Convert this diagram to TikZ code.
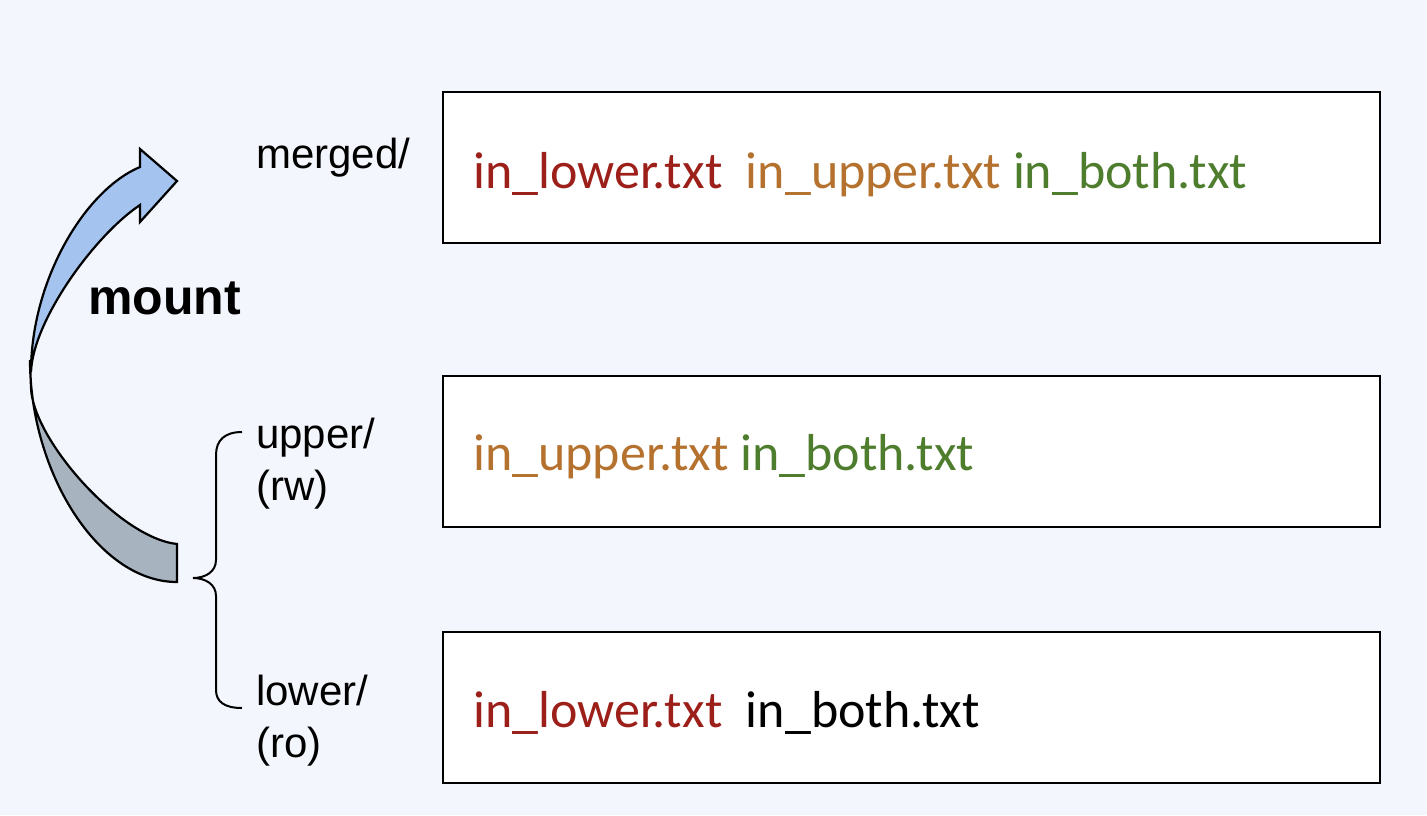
\documentclass[tikz,border=0pt]{standalone}
\usepackage{fontspec}
\setmainfont{Liberation Sans}
\newfontfamily\filefont{Carlito}
\definecolor{bgc}{HTML}{F3F6FC}
\definecolor{cred}{HTML}{9C1F1A}
\definecolor{cbrown}{HTML}{B5722F}
\definecolor{cgreen}{HTML}{4E7D2D}
\definecolor{arrowblue}{HTML}{A4C3EE}
\definecolor{arrowgray}{HTML}{A8B3C0}
\begin{document}
\begin{tikzpicture}[x=1pt,y=-1pt,
  filebox/.style={draw=black,line width=2pt,fill=white,minimum width=937pt,minimum height=151pt,inner sep=0pt},
  filetext/.style={anchor=base west,inner sep=0pt,font=\filefont\fontsize{52}{62}\selectfont},
  dirlabel/.style={anchor=base west,inner sep=0pt,font=\fontsize{42}{50}\selectfont},
  arrowpart/.style={draw=black,line width=2.2pt,line join=miter}]
\fill[bgc] (0,0) rectangle (1427,815);
\useasboundingbox (0,0) rectangle (1427,815);

% boxes
\node[filebox] (merged) at (911.5,167.5) {};
\node[filebox] (upper) at (911.5,451) {};
\node[filebox] (lower) at (911.5,707.5) {};

% file texts
\node[filetext] (t1) at (473,188) {\textcolor{cred}{in\_lower.txt}\hspace{0.45em}\textcolor{cbrown}{in\_upper.txt} \textcolor{cgreen}{in\_both.txt}};
\node[filetext] (t2) at (473,470) {\textcolor{cbrown}{in\_upper.txt} \textcolor{cgreen}{in\_both.txt}};
\node[filetext] (t3) at (473,727) {\textcolor{cred}{in\_lower.txt}\hspace{0.45em}\textcolor{black}{in\_both.txt}};

% labels
\node[dirlabel] (lm) at (256,168) {merged/};
\node[dirlabel] (lu1) at (256,448) {upper/};
\node[dirlabel] (lu2) at (256,500) {(rw)};
\node[dirlabel] (ll1) at (256,705) {lower/};
\node[dirlabel] (ll2) at (256,757) {(ro)};
\node[anchor=base west,inner sep=0pt,font=\bfseries\fontsize{50}{60}\selectfont] (mount) at (88,314) {mount};

% brace
\draw[line width=2pt] (242,432) .. controls (225,432) and (216,440) .. (216,455) -- (216,560)
  .. controls (216,572) and (205,578) .. (193,578)
  .. controls (205,578) and (216,584) .. (216,596) -- (216,690)
  .. controls (216,702) and (225,708) .. (242,708);

% curved arrow: lower (back) part
\draw[arrowpart,fill=arrowgray] (30,360) .. controls (30,472) and (98,582) .. (177,582) -- (177,544)
  .. controls (120,538) and (33,440) .. (31,388) -- cycle;
% upper (front) part with head
\draw[arrowpart,fill=arrowblue] (31,372) .. controls (31,280) and (85,190) .. (140,167) -- (140,149) -- (177,181) -- (140,222) -- (140,205)
  .. controls (95,235) and (33,320) .. (31,372) -- cycle;
\end{tikzpicture}
\end{document}
